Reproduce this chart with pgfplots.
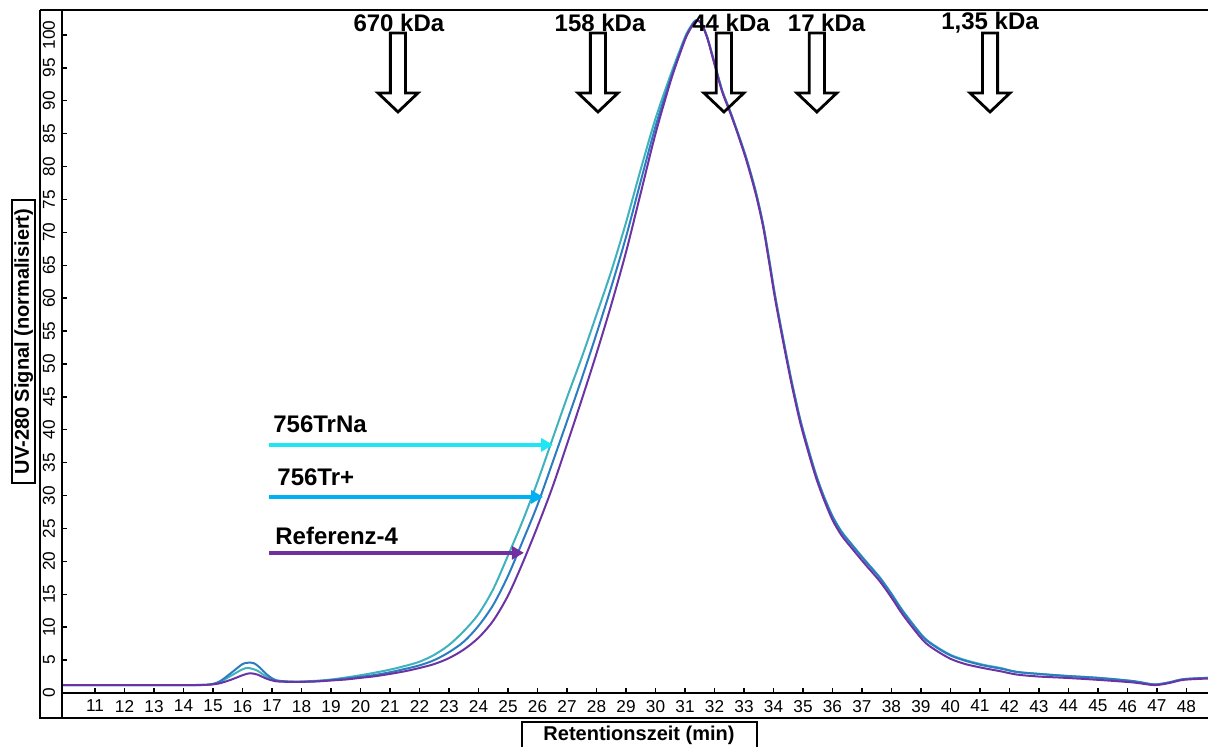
\documentclass[border=0pt]{standalone}
\usepackage{fontspec}
\setmainfont{Liberation Sans}
\usepackage{pgfplots}
\pgfplotsset{compat=1.18}
\usetikzlibrary{arrows.meta}

\definecolor{cTrNa}{HTML}{3FB2BE}
\definecolor{cTrP}{HTML}{2C7DC0}
\definecolor{cRef}{HTML}{6B33A3}
\definecolor{aTrNa}{HTML}{1FE6F5}
\definecolor{aTrP}{HTML}{00B0F0}
\definecolor{aRef}{HTML}{7030A0}

\newcommand{\hollowarrow}[1]{%
  \draw[line width=1.4pt] (axis cs:#1,88.3) -- ++(-10pt,9.5pt) -- ++(6.2pt,0pt) -- ++(0pt,30pt) -- ++(7.6pt,0pt) -- ++(0pt,-30pt) -- ++(6.2pt,0pt) -- cycle;}

\begin{document}
\begin{tikzpicture}
\useasboundingbox (0,0) rectangle (604pt,373.5pt);
\begin{axis}[
  at={(31pt,27pt)}, anchor=south west, scale only axis,
  width=573pt, height=341.5pt,
  xmin=9.88, xmax=48.73, ymin=0, ymax=103.8,
  axis x line=bottom, axis y line=left,
  axis line style={-, line width=1.2pt},
  xtick={11,...,48}, ytick={0,5,...,100},
  tick align=inside, major tick length=2.5pt,
  tick style={line width=0.7pt, black},
  ticklabel style={font=\fontsize{8.6}{10}\selectfont},
  /pgf/number format/assume math mode=true,
  yticklabel style={rotate=90, anchor=south},
  xticklabel style={anchor=north},
  clip mode=individual,
]
\addplot[cTrNa, line width=1pt, smooth, tension=0.5] coordinates {
(9.88,1.2)(11,1.2)(12,1.2)(13,1.2)(14,1.2)(14.8,1.25)(15.2,1.6)(15.6,2.6)(16.0,3.6)(16.2,3.8)(16.5,3.4)(16.8,2.5)(17.1,1.9)(17.5,1.75)(18,1.75)(18.5,1.85)(19,2.05)(19.5,2.35)(20,2.7)(20.5,3.1)(21,3.55)(21.5,4.1)(22,4.75)(22.5,5.8)(23,7.3)(23.5,9.4)(24,12.0)(24.5,15.8)(25,20.9)(25.5,26.2)(26,32.1)(26.5,38.5)(27,44.9)(27.5,51.0)(28,57.5)(28.5,64.1)(29,71.5)(29.5,79.6)(30,87.3)(30.5,93.8)(30.8,97.4)(31.05,100.2)(31.3,102.0)(31.4,102.2)(31.55,101.8)(31.75,99.7)(31.96,96.4)(32.25,91.7)(32.53,88.4)(32.8,85.0)(33.09,81.1)(33.4,76.2)(33.65,71.2)(33.85,66)(34.05,60.5)(34.3,54.5)(34.6,47.7)(34.9,41.7)(35.2,36.8)(35.45,33.1)(35.7,30.0)(36,26.9)(36.3,24.6)(36.6,22.9)(37.1,20.2)(37.6,17.6)(38,15.1)(38.4,12.4)(39.07,8.6)(39.5,7.1)(40,5.8)(40.5,5.0)(41.1,4.3)(41.7,3.8)(42.25,3.2)(43,2.9)(43.9,2.6)(45,2.3)(46.2,1.8)(46.9,1.3)(47.4,1.6)(47.9,2.1)(48.73,2.3)
};
\addplot[cTrP, line width=1pt, smooth, tension=0.5] coordinates {
(9.88,1.2)(11,1.2)(12,1.2)(13,1.2)(14,1.2)(14.8,1.25)(15.2,1.7)(15.6,3.0)(16.0,4.4)(16.2,4.6)(16.4,4.5)(16.6,3.8)(16.8,2.9)(17.1,2.0)(17.5,1.75)(18,1.7)(18.5,1.8)(19,1.95)(19.5,2.2)(20,2.45)(20.5,2.75)(21,3.15)(21.5,3.65)(22,4.2)(22.5,5.0)(23,6.2)(23.5,7.8)(24,10.2)(24.5,13.4)(25,17.8)(25.5,23.1)(26,28.6)(26.5,34.9)(27,41.3)(27.5,47.8)(28,54.6)(28.5,61.7)(29,69.3)(29.5,77.8)(30,86.1)(30.5,93.2)(30.8,97.1)(31.05,100.0)(31.3,101.9)(31.4,102.2)(31.55,101.8)(31.75,99.7)(31.96,96.4)(32.25,91.7)(32.53,88.4)(32.8,85.0)(33.09,81.1)(33.4,76.1)(33.65,71.1)(33.85,65.9)(34.05,60.4)(34.3,54.4)(34.6,47.6)(34.9,41.6)(35.2,36.7)(35.45,33.0)(35.7,29.9)(36,26.8)(36.3,24.5)(36.6,22.8)(37.1,20.1)(37.6,17.5)(38,15.0)(38.4,12.3)(39.07,8.5)(39.5,7.0)(40,5.7)(40.5,4.9)(41.1,4.2)(41.7,3.7)(42.25,3.2)(43,2.9)(43.9,2.6)(45,2.3)(46.2,1.8)(46.9,1.3)(47.4,1.6)(47.9,2.1)(48.73,2.3)
};
\addplot[cRef, line width=1pt, smooth, tension=0.5] coordinates {
(9.88,1.2)(11,1.2)(12,1.2)(13,1.2)(14,1.2)(14.8,1.25)(15.2,1.45)(15.6,2.0)(16.0,2.7)(16.25,3.0)(16.5,2.8)(16.8,2.2)(17.1,1.8)(17.5,1.7)(18,1.7)(18.5,1.75)(19,1.9)(19.5,2.05)(20,2.3)(20.5,2.55)(21,2.9)(21.5,3.3)(22,3.8)(22.5,4.4)(23,5.3)(23.5,6.6)(24,8.4)(24.5,11.0)(25,14.8)(25.5,19.8)(26,25.3)(26.5,31.2)(27,37.8)(27.5,44.6)(28,51.6)(28.5,59.0)(29,67.0)(29.5,76.0)(30,85.0)(30.5,92.8)(30.8,96.8)(31.05,99.8)(31.3,101.8)(31.4,102.2)(31.55,101.8)(31.75,99.6)(31.96,96.2)(32.25,91.5)(32.53,88.2)(32.8,84.8)(33.09,80.8)(33.4,75.8)(33.65,70.8)(33.85,65.5)(34.05,60)(34.3,54)(34.6,47.2)(34.9,41.2)(35.2,36.3)(35.45,32.6)(35.7,29.5)(36,26.3)(36.3,24.0)(36.6,22.3)(37.1,19.6)(37.6,17)(38,14.5)(38.4,11.8)(39.07,8)(39.5,6.5)(40,5.2)(40.5,4.4)(41.1,3.8)(41.7,3.3)(42.25,2.8)(43,2.5)(43.9,2.3)(45,2.0)(46.2,1.6)(46.9,1.2)(47.4,1.5)(47.9,2.0)(48.73,2.2)
};
% legend arrows
\draw[aTrNa, line width=2pt, -{Triangle[length=6pt,width=6.5pt]}] (axis cs:16.9,37.7) -- (axis cs:26.53,37.7);
\draw[aTrP, line width=2pt, -{Triangle[length=6pt,width=6.5pt]}] (axis cs:16.9,29.8) -- (axis cs:26.19,29.8);
\draw[aRef, line width=2pt, -{Triangle[length=6pt,width=6.5pt]}] (axis cs:16.9,21.3) -- (axis cs:25.54,21.3);
\node[anchor=west, inner sep=0pt, font=\bfseries\fontsize{12}{14}\selectfont] at (axis cs:17.03,40.9) {756TrNa};
\node[anchor=west, inner sep=0pt, font=\bfseries\fontsize{12}{14}\selectfont] at (axis cs:17.17,32.75) {756Tr+};
\node[anchor=west, inner sep=0pt, font=\bfseries\fontsize{12}{14}\selectfont] at (axis cs:17.1,23.9) {Referenz-4};
% marker labels and hollow arrows
\node[inner sep=0pt, font=\bfseries\fontsize{12}{14}\selectfont] at (axis cs:21.3,101.9) {670 kDa};
\node[inner sep=0pt, font=\bfseries\fontsize{12}{14}\selectfont] at (axis cs:28.12,101.9) {158 kDa};
\node[inner sep=0pt, font=\bfseries\fontsize{12}{14}\selectfont] at (axis cs:32.56,101.9) {44 kDa};
\node[inner sep=0pt, font=\bfseries\fontsize{12}{14}\selectfont] at (axis cs:35.8,101.9) {17 kDa};
\node[inner sep=0pt, font=\bfseries\fontsize{12}{14}\selectfont] at (axis cs:41.34,101.9) {1,35 kDa};
\hollowarrow{21.27}
\hollowarrow{28.05}
\hollowarrow{32.32}
\hollowarrow{35.47}
\hollowarrow{41.34}
\end{axis}
% outer frame
\draw[line width=1.2pt] (20pt,368.5pt) -- (604pt,368.5pt);
\draw[line width=1.2pt] (20pt,368.5pt) -- (20pt,14.5pt) -- (604pt,14.5pt);
\draw[line width=1.2pt] (31pt,368.5pt) -- (31pt,14.5pt);
% axis titles in boxes
\draw[line width=1pt] (6pt,132pt) rectangle (17.5pt,273.5pt);
\node[rotate=90, inner sep=0pt, font=\bfseries\fontsize{10}{12}\selectfont] at (11.9pt,202.75pt) {UV-280 Signal (normalisiert)};
\draw[line width=1pt] (260.85pt,-1pt) -- (260.85pt,12.5pt) -- (378.35pt,12.5pt) -- (378.35pt,-1pt);
\node[inner sep=0pt, font=\bfseries\fontsize{10}{12}\selectfont] at (319.5pt,5.6pt) {Retentionszeit (min)};
\end{tikzpicture}
\end{document}
